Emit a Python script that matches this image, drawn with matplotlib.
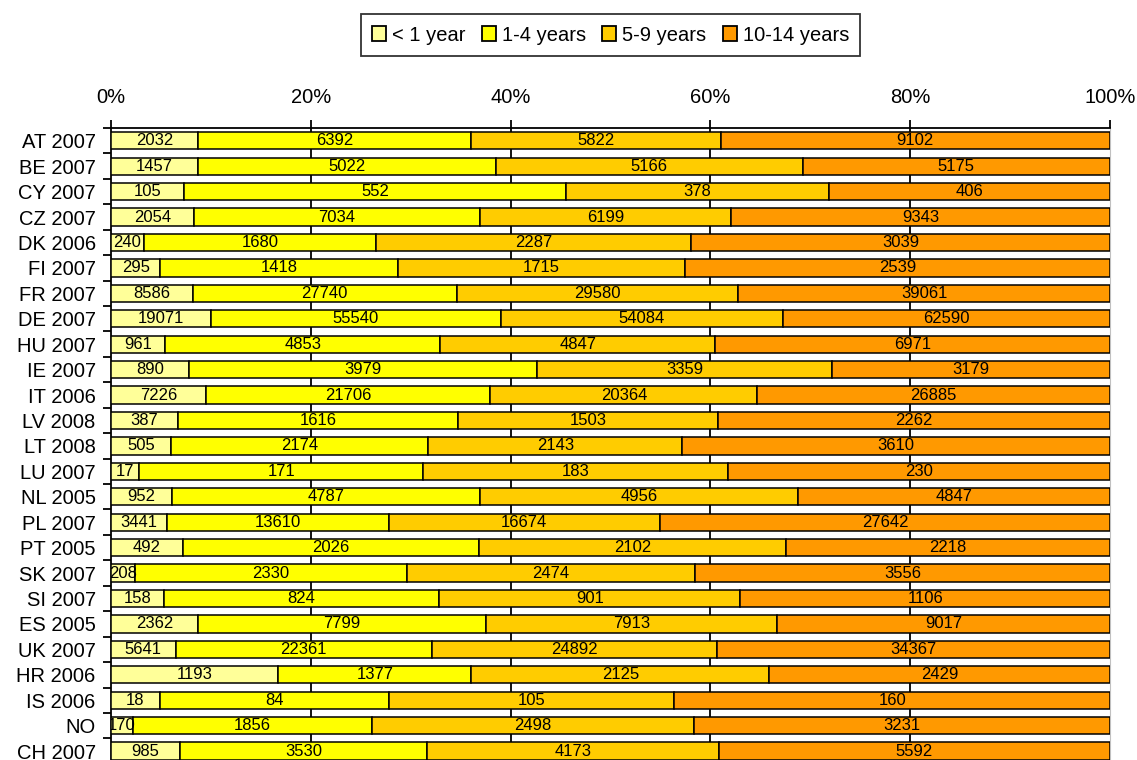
import numpy as np
import matplotlib
matplotlib.use("Agg")
import matplotlib.pyplot as plt
from matplotlib.patches import Patch

plt.rcParams['font.family'] = ['Liberation Sans', 'DejaVu Sans']

# data: children by age of the youngest child
countries = ['AT 2007', 'BE 2007', 'CY 2007', 'CZ 2007', 'DK 2006', 'FI 2007', 'FR 2007',
             'DE 2007', 'HU 2007', 'IE 2007', 'IT 2006', 'LV 2008', 'LT 2008', 'LU 2007',
             'NL 2005', 'PL 2007', 'PT 2005', 'SK 2007', 'SI 2007', 'ES 2005', 'UK 2007',
             'HR 2006', 'IS 2006', 'NO', 'CH 2007']
under_1 = [2032, 1457, 105, 2054, 240, 295, 8586, 19071, 961, 890, 7226, 387, 505, 17,
           952, 3441, 492, 208, 158, 2362, 5641, 1193, 18, 170, 985]
y1_4 = [6392, 5022, 552, 7034, 1680, 1418, 27740, 55540, 4853, 3979, 21706, 1616, 2174, 171,
        4787, 13610, 2026, 2330, 824, 7799, 22361, 1377, 84, 1856, 3530]
y5_9 = [5822, 5166, 378, 6199, 2287, 1715, 29580, 54084, 4847, 3359, 20364, 1503, 2143, 183,
        4956, 16674, 2102, 2474, 901, 7913, 24892, 2125, 105, 2498, 4173]
y10_14 = [9102, 5175, 406, 9343, 3039, 2539, 39061, 62590, 6971, 3179, 26885, 2262, 3610, 230,
          4847, 27642, 2218, 3556, 1106, 9017, 34367, 2429, 160, 3231, 5592]
series_names = ['< 1 year', '1-4 years', '5-9 years', '10-14 years']
colors = ['#FFFF99', '#FFFF00', '#FFCC00', '#FF9900']

series = np.array([under_1, y1_4, y5_9, y10_14], dtype=float)
totals = series.sum(axis=0)
shares = series / totals * 100

fig = plt.figure(figsize=(11.37, 7.6), dpi=100)
ax = fig.add_axes([111 / 1137, 0.0, (1110 - 111) / 1137, 1 - 128 / 760])

y = np.arange(len(countries))
left = np.zeros(len(countries))
for i in range(4):
    ax.barh(y, shares[i], left=left, height=0.68, color=colors[i],
            edgecolor='black', linewidth=1.1, zorder=3)
    for j in range(len(countries)):
        ax.text(left[j] + shares[i][j] / 2, y[j], str(int(series[i][j])),
                ha='center', va='center', fontsize=12, zorder=4, clip_on=True)
    left += shares[i]

ax.set_xlim(0, 100)
ax.set_ylim(24.35, -0.5)

# percent axis on top
ax.xaxis.tick_top()
ax.set_xticks([0, 20, 40, 60, 80, 100])
ax.set_xticklabels(['0%', '20%', '40%', '60%', '80%', '100%'])
ax.tick_params(axis='x', direction='out', length=6, width=1.3, labelsize=14.5, pad=9)
for xv in [20, 40, 60, 80]:
    ax.axvline(xv, color='black', linewidth=1.3, zorder=1)

ax.set_yticks(y)
ax.set_yticklabels(countries)
ax.set_yticks(np.arange(-0.5, 24.5, 1), minor=True)
ax.tick_params(axis='y', which='major', length=0, labelsize=14.5, pad=11)
ax.tick_params(axis='y', which='minor', direction='out', length=6, width=1.3)

ax.spines['bottom'].set_visible(False)
ax.spines['right'].set_color('#c0c0c0')
ax.spines['right'].set_linewidth(0.8)
ax.spines['top'].set_linewidth(1.3)
ax.spines['left'].set_linewidth(1.3)

handles = [Patch(facecolor=c, edgecolor='black', linewidth=1.3) for c in colors]
leg = fig.legend(handles, series_names, loc='upper center', bbox_to_anchor=(0.537, 0.981),
                 ncol=4, fontsize=14.5, frameon=True, fancybox=False, edgecolor='black',
                 handlelength=0.7, handleheight=0.7, handletextpad=0.3, columnspacing=0.8,
                 borderpad=0.55, borderaxespad=0)
leg.get_frame().set_linewidth(1.3)

fig.savefig('out.png', dpi=100)
